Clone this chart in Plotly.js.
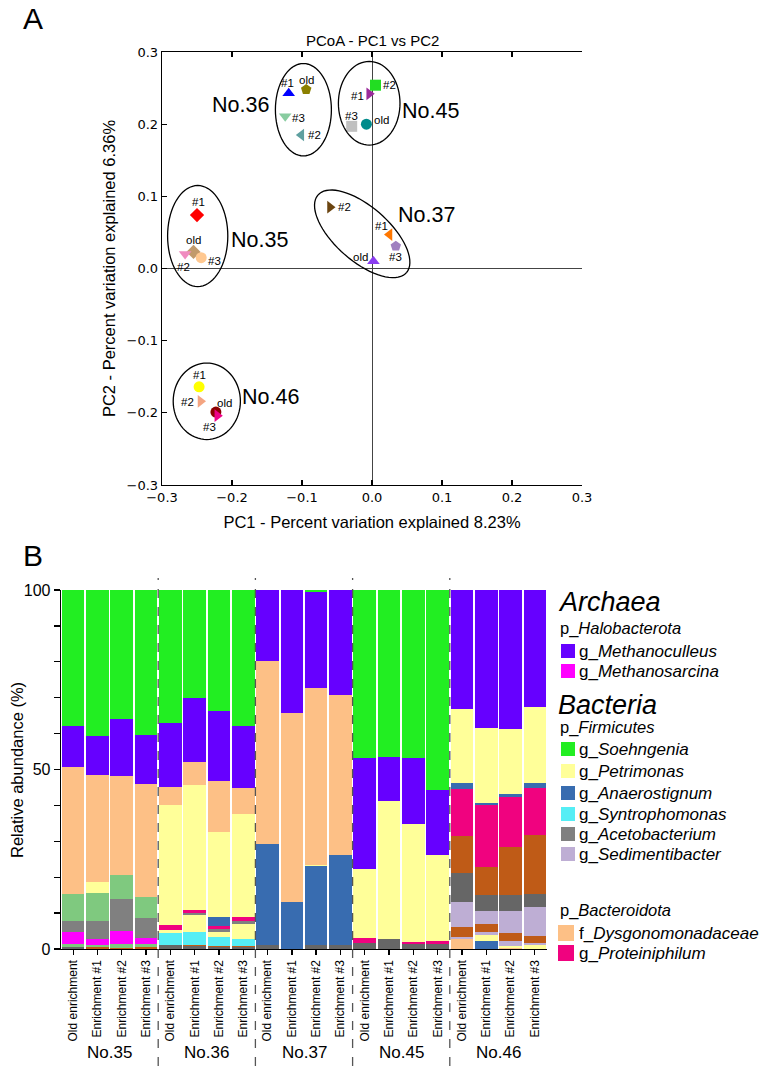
<!DOCTYPE html>
<html>
<head>
<meta charset="utf-8">
<script src="https://cdn.plot.ly/plotly-3.0.1.min.js"></script>
<style>
html,body{margin:0;padding:0;background:#fff;}
#chart{width:765px;height:1070px;}
</style>
</head>
<body>
<div id="chart"></div>
<script>
// ---------------- PCoA data ----------------
const pcoaGroup = ['No.35','No.35','No.35','No.35','No.36','No.36','No.36','No.36','No.37','No.37','No.37','No.37','No.45','No.45','No.45','No.45','No.46','No.46','No.46','No.46'];
const pcoaLabel = ['old','#1','#2','#3','old','#1','#2','#3','old','#1','#2','#3','old','#1','#2','#3','old','#1','#2','#3'];
const pc1 = [-0.255,-0.250,-0.267,-0.244, -0.094,-0.119,-0.101,-0.124, 0.002,0.025,-0.060,0.034, -0.008,-0.004,0.005,-0.029, -0.223,-0.247,-0.245,-0.221];
const pc2 = [0.023,0.074,0.020,0.015, 0.248,0.243,0.185,0.211, 0.010,0.047,0.085,0.031, 0.200,0.242,0.254,0.197, -0.199,-0.164,-0.184,-0.204];
// styles for the PCoA points
const pointSymbol = ['diamond','diamond','triangle-down','circle','pentagon','triangle-up','triangle-left','triangle-down','triangle-up','triangle-left','triangle-right','pentagon','circle','triangle-right','square','square','circle','circle','triangle-right','triangle-right'];
const pointColor = ['#C19A6B','#FF0000','#F08CC0','#FFC890','#8B8000','#0000FF','#5FA0A0','#88CCA0','#8A3CF0','#FF7700','#6B4410','#A080C0','#008B8B','#9B2B9B','#22DD22','#C0C0C0','#8B0000','#FFFF00','#F4A582','#EE0088'];
const labelOffset = [[0,-12],[1,-13],[-2,13],[13,3],[0,-10],[-1,-10],[13,0],[13,2],[-13,-4],[-8,-9],[14,0],[0,11],[15,-4],[-12,2],[14,0],[0,-10],[9,-9],[0,-12],[-13,1],[-8,11]];

// ---------------- Bar data ----------------
const groups = ['No.35','No.36','No.37','No.45','No.46'];
const samples = ['Old enrichment','Enrichment #1','Enrichment #2','Enrichment #3'];
const otherGray      = [0.65,0,0,0, 1.1,0.7,0.5,0.5, 1.2,0,1.1,1.2, 1.8,2.8,1.4,1.4, 0,0,0,0];
const otherPeach     = [0,0,0,0, 0,0,0,0, 0,0,0,0, 0,0,0,0, 2.9,0,0.4,0];
const anaerostignum  = [0,0,0,0, 0,0,0,0, 28.0,13.0,21.9,25.1, 0,0,0,0, 0,2.3,0,0];
const otherBrownA    = [0,0.65,0.4,0.45, 0,0.4,0.4,0.4, 0,0,0,0, 0,0,0,0, 0,0,0,0];
const otherGreenA    = [0.75,0.45,0.9,0.95, 0,0,0,0, 0,0,0,0, 0,0,0,0, 0,0,0,0];
const methanosarcina = [3.2,1.6,3.6,1.8, 0,0,0,0, 0,0,0,0, 0,0,0,0, 0,0,0,0];
const syntrophomonas = [0,0,0,0, 3.4,3.5,2.5,1.8, 0,0,0,0, 0,0,0,0, 0,0,0,0];
const otherYellow    = [0,0,0,0, 0.8,4.9,1.4,4.4, 0,0,0,0, 0,0,0,0, 0,1.6,0.4,1.1];
const otherLavender  = [0,0,0,0, 0,0,0,0, 0,0,0,0, 0,0,0,0, 0.5,0.9,1.4,0.7];
const otherBrownB    = [0,0,0,0, 0,0,0,0, 0,0,0,0, 0,0,0,0, 2.8,2.3,2.2,1.8];
const sedimentibacter= [0,0,0,0, 0,0,0,0, 0,0,0,0, 0,0,0,0, 7.0,3.6,6.3,8.0];
const acetobacterium = [3.3,5.2,9.0,5.5, 0,0.6,0.8,0.8, 0,0,0,0, 0,0,0,0, 0,0,0,0];
const otherGrayB     = [0,0,0,0, 0,0,0,0, 0,0,0,0, 0,0,0,0, 8.0,4.3,4.3,3.7];
const otherGreenB    = [7.4,7.8,6.8,5.7, 0,0,0,0, 0,0,0,0, 0,0,0,0, 0,0,0,0];
const otherBrownC    = [0,0,0,0, 0,0,0,0, 0,0,0,0, 0,0,0,0, 10.3,7.8,13.4,16.5];
const proteiniphilum = [0,0,0,0, 1.4,0.7,0.9,0.9, 0,0,0,0, 1.2,0,0.6,0.9, 13.0,17.2,13.9,13.0];
const otherBlue      = [0,0,0,0, 0,0,2.3,0, 0,0,0,0, 0,0,0,0, 1.7,0.6,0.9,1.4];
const petrimonas     = [0,3.1,0,0, 33.3,34.9,23.7,28.9, 0,0,0.5,0, 19.3,38.5,32.9,23.9, 20.6,21.1,18.2,21.3];
const dysgonomonadaceae = [35.5,29.7,27.6,31.6, 5.2,6.3,14.4,7.1, 51.1,52.7,49.3,44.5, 0,0,0,0, 0,0,0,0];
const methanoculleus = [11.4,10.7,15.7,13.5, 17.7,17.9,19.5,17.4, 19.7,34.3,26.7,29.2, 30.8,12.1,18.4,18.0, 33.2,38.3,38.6,32.5];
const soehngenia     = [37.8,40.8,36.0,40.5, 37.1,30.1,33.6,37.8, 0,0,0.5,0, 46.9,46.6,46.7,55.8, 0,0,0,0];

// stacking order bottom -> top, with colours
const stackSeries = [
  ['other', otherGray, '#666666'],
  ['other', otherPeach, '#FDC086'],
  ['g_Anaerostignum', anaerostignum, '#386CB0'],
  ['other', otherBrownA, '#BF5B17'],
  ['other', otherGreenA, '#7FC97F'],
  ['g_Methanosarcina', methanosarcina, '#FF00FF'],
  ['g_Syntrophomonas', syntrophomonas, '#55EEF5'],
  ['other', otherYellow, '#FFFF99'],
  ['other', otherLavender, '#BEAED4'],
  ['other', otherBrownB, '#BF5B17'],
  ['g_Sedimentibacter', sedimentibacter, '#BEAED4'],
  ['g_Acetobacterium', acetobacterium, '#808080'],
  ['other', otherGrayB, '#666666'],
  ['other', otherGreenB, '#7FC97F'],
  ['other', otherBrownC, '#BF5B17'],
  ['g_Proteiniphilum', proteiniphilum, '#F0027F'],
  ['other', otherBlue, '#386CB0'],
  ['g_Petrimonas', petrimonas, '#FFFF99'],
  ['f_Dysgonomonadaceae', dysgonomonadaceae, '#FDC086'],
  ['g_Methanoculleus', methanoculleus, '#6600FF'],
  ['g_Soehngenia', soehngenia, '#22EE22']
];

const W = 765, H = 1070;
const px = v => v / W;
const py = v => 1 - v / H;
const FONT = 'Liberation Sans, Arial, sans-serif';

const barX = [], barTickText = [];
groups.forEach((g, gi) => samples.forEach((s, si) => { barX.push(gi * 4 + si); barTickText.push(s); }));

const traces = [];
// PCoA points
traces.push({
  type: 'scatter', mode: 'markers', x: pc1, y: pc2, xaxis: 'x', yaxis: 'y',
  marker: { symbol: pointSymbol, color: pointColor, size: 11, line: { width: 0 } },
  showlegend: false, hoverinfo: 'skip'
});
// stacked bars
stackSeries.forEach(([name, vals, col]) => {
  traces.push({
    type: 'bar', x: barX, y: vals, name: name, xaxis: 'x2', yaxis: 'y2',
    marker: { color: col, line: { width: 0 } }, showlegend: false, hoverinfo: 'skip'
  });
});

const shapes = [];
const annotations = [];

// ellipses around groups (decorations)
function ellipsePath(cx, cy, a, b, angDeg) {
  const t = angDeg * Math.PI / 180; let d = '';
  for (let i = 0; i <= 72; i++) {
    const u = i / 72 * 2 * Math.PI;
    const ex = a * Math.cos(u), ey = b * Math.sin(u);
    const xx = cx + ex * Math.cos(t) - ey * Math.sin(t);
    const yy = cy + ex * Math.sin(t) + ey * Math.cos(t);
    d += (i === 0 ? 'M' : 'L') + xx.toFixed(5) + ',' + yy.toFixed(5);
  }
  return d + 'Z';
}
const ellipses = [
  [-0.249, 0.045, 0.043, 0.070, 0],
  [-0.098, 0.220, 0.040, 0.064, 0],
  [-0.014, 0.048, 0.083, 0.038, -40],
  [-0.004, 0.229, 0.044, 0.058, 0],
  [-0.236, -0.184, 0.048, 0.053, 0]
];
ellipses.forEach(e => shapes.push({ type: 'path', xref: 'x', yref: 'y', path: ellipsePath(...e), line: { color: '#000', width: 1.3 }, fillcolor: 'rgba(0,0,0,0)' }));

// group labels on PCoA
const groupLabelPos = { 'No.35': [-0.161, 0.040], 'No.36': [-0.188, 0.226], 'No.37': [0.078, 0.074], 'No.45': [0.083, 0.218], 'No.46': [-0.145, -0.178] };
Object.keys(groupLabelPos).forEach(k => annotations.push({
  xref: 'x', yref: 'y', x: groupLabelPos[k][0], y: groupLabelPos[k][1], text: k, showarrow: false,
  font: { family: FONT, size: 21.5, color: '#000' }, xanchor: 'center', yanchor: 'middle'
}));
// point labels
pcoaLabel.forEach((lab, i) => annotations.push({
  xref: 'x', yref: 'y', x: pc1[i], y: pc2[i], text: lab, showarrow: false,
  xshift: labelOffset[i][0], yshift: -labelOffset[i][1],
  font: { family: FONT, size: 11.5, color: '#000' }, xanchor: 'center', yanchor: 'middle'
}));

// panel letters and PCoA title
annotations.push({ xref: 'paper', yref: 'paper', x: px(33), y: py(19), text: 'A', showarrow: false, font: { family: FONT, size: 30, color: '#000' }, xanchor: 'center', yanchor: 'middle' });
annotations.push({ xref: 'paper', yref: 'paper', x: px(33), y: py(555), text: 'B', showarrow: false, font: { family: FONT, size: 30, color: '#000' }, xanchor: 'center', yanchor: 'middle' });
annotations.push({ xref: 'paper', yref: 'paper', x: px(372), y: py(40), text: 'PCoA - PC1 vs PC2', showarrow: false, font: { family: FONT, size: 15, color: '#000' }, xanchor: 'center', yanchor: 'middle' });
// bar chart y title
annotations.push({ xref: 'paper', yref: 'paper', x: px(17), y: py(770), text: 'Relative abundance (%)', textangle: -90, showarrow: false, font: { family: FONT, size: 16.5, color: '#000' }, xanchor: 'center', yanchor: 'middle' });

// group separators and group names on the bar chart
for (let g = 1; g < groups.length; g++) {
  shapes.push({ type: 'line', xref: 'x2', yref: 'paper', x0: g * 4 - 0.5, x1: g * 4 - 0.5, y0: py(1066), y1: py(578), line: { color: '#555', width: 1.3, dash: 'dash' } });
}
groups.forEach((g, gi) => annotations.push({
  xref: 'x2', yref: 'paper', x: gi * 4 + 1.5, y: py(1052), text: g, showarrow: false,
  font: { family: FONT, size: 17, color: '#000' }, xanchor: 'center', yanchor: 'middle'
}));

// legend (manual)
const colorOf = n => stackSeries.find(s => s[0] === n)[2];
const legendHeaders = [
  ['<i>Archaea</i>', 556, 602, 27],
  ['<i>Bacteria</i>', 556, 705, 27],
  ['p_<i>Halobacterota</i>', 558, 628, 16.5],
  ['p_<i>Firmicutes</i>', 558, 727, 16.5],
  ['p_<i>Bacteroidota</i>', 558, 910, 16.5]
];
legendHeaders.forEach(h => annotations.push({ xref: 'paper', yref: 'paper', x: px(h[1]), y: py(h[2]), text: h[0], showarrow: false, font: { family: FONT, size: h[3], color: '#000' }, xanchor: 'left', yanchor: 'middle' }));
const legendItems = [
  ['g_Methanoculleus', 651], ['g_Methanosarcina', 671],
  ['g_Soehngenia', 749], ['g_Petrimonas', 771], ['g_Anaerostignum', 793], ['g_Syntrophomonas', 814], ['g_Acetobacterium', 834], ['g_Sedimentibacter', 854],
  ['f_Dysgonomonadaceae', 933], ['g_Proteiniphilum', 953]
];
legendItems.forEach(([n, y]) => {
  const big = n === 'f_Dysgonomonadaceae' || n === 'g_Proteiniphilum';
  shapes.push({ type: 'rect', xref: 'paper', yref: 'paper', x0: px(big ? 558 : 561), x1: px(big ? 574 : 575), y0: py(y + (big ? 8 : 7)), y1: py(y - (big ? 8 : 7)), fillcolor: colorOf(n), line: { width: 0 } });
  const parts = n.split('_');
  annotations.push({ xref: 'paper', yref: 'paper', x: px(577), y: py(y), text: parts[0] + '_<i>' + parts[1] + '</i>', showarrow: false, font: { family: FONT, size: 17, color: '#000' }, xanchor: 'left', yanchor: 'middle' });
});

const pcTicks = [-0.3, -0.2, -0.1, 0, 0.1, 0.2, 0.3];
const pcTickText = pcTicks.map(v => (v < 0 ? '\u2212' : '') + Math.abs(v).toFixed(1));

const layout = {
  width: W, height: H, margin: { l: 0, r: 0, t: 0, b: 0 },
  paper_bgcolor: '#fff', plot_bgcolor: 'rgba(0,0,0,0)', showlegend: false,
  barmode: 'stack', bargap: 0.07,
  font: { family: FONT, color: '#000' },
  xaxis: {
    domain: [px(162), px(582)], anchor: 'y', range: [-0.3, 0.3],
    showline: true, linecolor: '#000', linewidth: 1.3, mirror: 'ticks',
    ticks: 'inside', ticklen: 5, tickwidth: 1.3, tickcolor: '#000',
    tickvals: pcTicks, ticktext: pcTickText, tickfont: { family: 'DejaVu Sans', size: 13 },
    showgrid: false, zeroline: true, zerolinecolor: '#444', zerolinewidth: 1,
    title: { text: 'PC1 - Percent variation explained 8.23%', font: { family: FONT, size: 16.5 }, standoff: 12 }
  },
  yaxis: {
    domain: [py(485), py(52)], anchor: 'x', range: [-0.3, 0.3],
    showline: true, linecolor: '#000', linewidth: 1.3,
    ticks: 'inside', ticklen: 5, tickwidth: 1.3, tickcolor: '#000',
    tickvals: pcTicks, ticktext: pcTickText, tickfont: { family: 'DejaVu Sans', size: 13 },
    showgrid: false, zeroline: true, zerolinecolor: '#444', zerolinewidth: 1,
    title: { text: 'PC2 - Percent variation explained 6.36%', font: { family: FONT, size: 16.5 }, standoff: 6 }
  },
  xaxis2: {
    domain: [px(61), px(547)], anchor: 'y2', range: [-0.5, 19.5],
    showline: true, linecolor: '#000', linewidth: 1.3,
    ticks: 'outside', ticklen: 5, tickwidth: 1.3, tickcolor: '#000',
    tickvals: barX, ticktext: barTickText, tickangle: -90, tickfont: { family: FONT, size: 12 },
    showgrid: false, zeroline: false
  },
  yaxis2: {
    domain: [py(949), py(590)], anchor: 'x2', range: [0, 100],
    showline: true, linecolor: '#000', linewidth: 1.3,
    ticks: 'outside', ticklen: 6, tickwidth: 1.3, tickcolor: '#000',
    tickvals: [0,10,20,30,40,50,60,70,80,90,100], ticktext: ['0','','','','','50','','','','','100'],
    tickfont: { family: FONT, size: 16 },
    showgrid: false, zeroline: false
  },
  shapes: shapes, annotations: annotations
};

Plotly.newPlot('chart', traces, layout, { staticPlot: true, displayModeBar: false });
</script>
</body>
</html>
